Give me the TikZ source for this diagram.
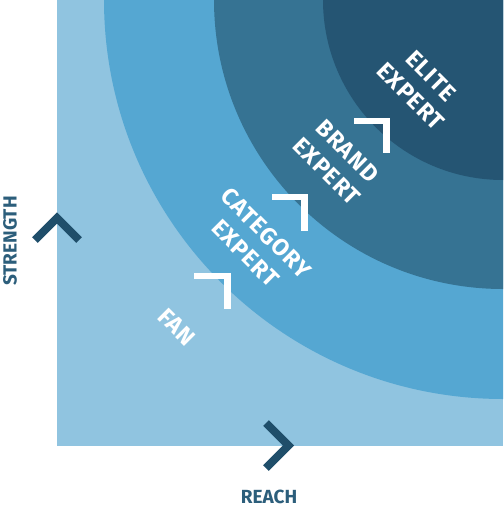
\documentclass[tikz,border=0pt]{standalone}
\usepackage{fontspec}
\setmainfont{Fira Sans}
\newfontfamily\labfont[LetterSpace=4]{Fira Sans}
\definecolor{cfan}{HTML}{90C4E0}
\definecolor{ccat}{HTML}{55A7D2}
\definecolor{cbrand}{HTML}{367393}
\definecolor{celite}{HTML}{255573}
\definecolor{caxis}{HTML}{1F4E6A}
\definecolor{caxtext}{HTML}{2C5E7B}
\begin{document}
\begin{tikzpicture}[x=1pt,y=-1pt,
  lvl/.style={text=white,font=\labfont\fontsize{23.5}{29}\selectfont\bfseries,rotate=-45,align=center,inner sep=0pt},
  axlabel/.style={text=caxtext,font=\fontsize{19}{22}\selectfont\bfseries,inner sep=0pt},
  chev/.style={draw=caxis,line width=8pt,line cap=butt,line join=miter},
  corner/.style={draw=white,line width=6.5pt,line cap=butt,line join=miter}]
\useasboundingbox (0,0) rectangle (503,511);
\begin{scope}
  \clip (57,0) rectangle (503,446);
  \fill[cfan] (57,0) rectangle (503,446);
  \fill[ccat] (503,0) circle (399pt);
  \fill[cbrand] (503,0) circle (289pt);
  \fill[celite] (503,0) circle (180pt);
\end{scope}
% axis chevrons
\coordinate (sa) at (35,240);
\coordinate (sb) at (57,218);
\coordinate (sc) at (79,240);
\draw[chev] (sa) -- (sb) -- (sc);
\coordinate (ra) at (266,423);
\coordinate (rb) at (288.5,445.5);
\coordinate (rc) at (266,468);
\draw[chev] (ra) -- (rb) -- (rc);
% corner marks
\coordinate (fa) at (194,276);
\coordinate (fb) at (227.5,276);
\coordinate (fc) at (227.5,309);
\draw[corner] (fa) -- (fb) -- (fc);
\coordinate (ca) at (272,197);
\coordinate (cb) at (304.5,197);
\coordinate (cc) at (304.5,231);
\draw[corner] (ca) -- (cb) -- (cc);
\coordinate (ba) at (354,121);
\coordinate (bb) at (386.5,121);
\coordinate (bc) at (386.5,153);
\draw[corner] (ba) -- (bb) -- (bc);
% labels
\node[lvl] (fan) at (177,327) {FAN};
\node[lvl] (cat) at (256,243) {CATEGORY\\EXPERT};
\node[lvl] (brand) at (337,161) {BRAND\\EXPERT};
\node[lvl] (elite) at (421,86) {ELITE\\EXPERT};
\node[axlabel,rotate=90] (strength) at (10,241) {STRENGTH};
\node[axlabel] (reach) at (269,497) {REACH};
\end{tikzpicture}
\end{document}
